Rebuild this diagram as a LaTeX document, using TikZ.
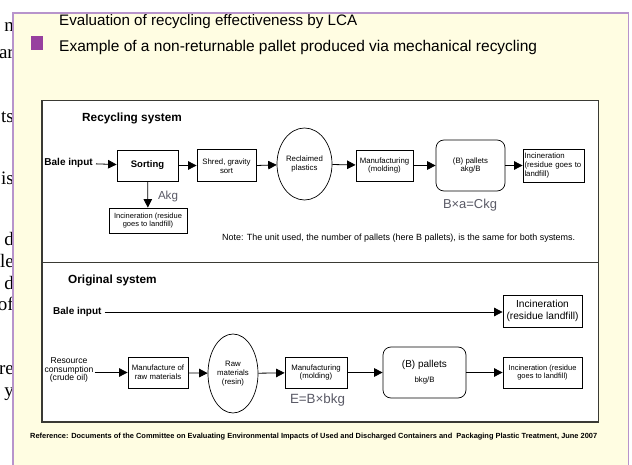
\documentclass[tikz,border=0pt]{standalone}
\usepackage{fontspec}
\setmainfont{Liberation Sans}
\newfontfamily\pageserif{Liberation Serif}
\usetikzlibrary{arrows.meta,shapes.geometric}
\definecolor{panelfill}{HTML}{FFFDE2}
\definecolor{panelrule}{HTML}{B894CC}
\definecolor{markpurple}{HTML}{97409F}
\definecolor{framerule}{HTML}{3A3A34}
\definecolor{qtygray}{HTML}{5A5A66}
\tikzset{
  fs/.style={font=\fontsize{#1}{#1}\selectfont},
  fsb/.style={font=\fontsize{#1}{#1}\selectfont\bfseries},
  boxfont/.style={font=\fontsize{7.8}{8.8}\selectfont},
  procbox/.style={draw=black, line width=0.8pt, fill=white, align=center,
    inner sep=1pt, boxfont},
  stockoval/.style={ellipse, draw=black, line width=0.7pt, fill=white, align=center,
    inner sep=0pt, boxfont},
  productbox/.style={draw=black, line width=0.7pt, rounded corners=8pt, fill=white,
    align=center, inner sep=1pt, boxfont},
  qty/.style={text=qtygray, inner sep=0pt},
  flow/.style={line width=0.8pt, -{Triangle[length=8.5pt,width=8.5pt]}},
  pagetext/.style={anchor=base east, inner sep=0pt, font=\pageserif\fontsize{19}{19}\selectfont}
}
\begin{document}
\begin{tikzpicture}[x=1pt,y=-1pt]
\useasboundingbox (0,0) rectangle (632,465);
\fill[white] (0,0) rectangle (632,465);

% text of the page running behind the panel
\foreach \t/\yy in {n/32, ar/59, ts/123, is/185, d/246, le/267, d/289, of/310, re/374, y/396}
  \node[pagetext] at (14,\yy) {\t};

% panel
\draw[fill=panelfill, draw=panelrule, line width=1.6pt] (13,13) rectangle (628.5,480);
\fill[markpurple] (31,36) rectangle (43,50);
\node[anchor=west, inner sep=0pt] (title) at (59,21.5)
  {\resizebox{298pt}{!}{\fontsize{15}{15}\selectfont Evaluation of recycling effectiveness by LCA}};
\node[anchor=west, inner sep=0pt] (subtitle) at (59,47.5)
  {\resizebox{478pt}{!}{\fontsize{15}{15}\selectfont Example of a non-returnable pallet produced via mechanical recycling}};

% diagram frame
\draw[fill=white, draw=framerule, line width=1.2pt] (42,100.5) rectangle (598.5,422);
\draw[draw=framerule, line width=1.2pt] (42,262.5) -- (598.5,262.5);

% ---------- recycling system ----------
\node[anchor=west, inner sep=0pt, fsb=11.8] (rechead) at (82,118) {Recycling system};
\node[anchor=east, inner sep=0pt, fsb=10] (bale1) at (93,163) {Bale input};
\node[procbox, minimum width=61pt, minimum height=31pt, fsb=9.5] (sort) at (147.5,165.5) {Sorting};
\node[procbox, minimum width=59pt, minimum height=32pt, anchor=north] (shred) at (226.5,149.5) {Shred, gravity\\sort};
\node[stockoval, minimum width=55pt, minimum height=72pt] (recl) at (304.5,164) {Reclaimed\\plastics};
\node[procbox, minimum width=57pt, minimum height=31pt] (mfg1) at (384.5,165.5) {Manufacturing\\(molding)};
\node[productbox, minimum width=69pt, minimum height=51pt] (pal1) at (470.5,165.5) {(B) pallets\\akg/B};
\node[procbox, minimum width=61pt, minimum height=33pt, align=left, text width=58pt] (inc1) at (553.5,165.5) {Incineration\\(residue goes to\\landfill)};
\node[procbox, minimum width=78pt, minimum height=25pt, font=\fontsize{7.5}{8.5}\selectfont] (inc0) at (148,220.5) {Incineration (residue\\goes to landfill)};
\node[qty] (akg) at (168,197) {\resizebox{20pt}{!}{\fontsize{11}{11}\selectfont Akg}};
\node[qty] (bac) at (470,205) {\resizebox{54pt}{!}{\fontsize{12}{12}\selectfont B\texttimes a=Ckg}};
\node[anchor=west, inner sep=0pt] (note) at (222,238)
  {\resizebox{353pt}{!}{\fontsize{8.5}{8.5}\selectfont Note: The unit used, the number of pallets (here B pallets), is the same for both systems.}};

\draw[flow, shorten <=3pt] (bale1) -- (sort);
\draw[flow] (sort) -- (shred.west |- sort);
\draw[flow] (shred.east |- sort) -- (recl);
\draw[flow] (recl) -- (mfg1);
\draw[flow] (mfg1) -- (pal1);
\draw[flow] (pal1) -- (inc1);
\draw[flow] (sort) -- (inc0);

% ---------- original system ----------
\node[anchor=west, inner sep=0pt, fsb=11.8] (orighead) at (68,280) {Original system};
\node[anchor=west, inner sep=0pt, fsb=10] (bale2) at (53,312) {Bale input};
\node[procbox, minimum width=79pt, minimum height=32pt, font=\fontsize{10.2}{11.5}\selectfont] (inc2) at (542.5,311) {Incineration\\(residue landfill)};
\node[align=center, inner sep=1pt, fs=8.6] (res) at (69,370) {Resource\\consumption\\(crude oil)};
\node[procbox, minimum width=60pt, minimum height=31pt] (mraw) at (158,372.5) {Manufacture of\\raw materials};
\node[stockoval, minimum width=50pt, minimum height=79pt] (raw) at (233,373.5) {Raw\\materials\\(resin)};
\node[procbox, minimum width=62pt, minimum height=31pt] (mfg2) at (316,372.5) {Manufacturing\\(molding)};
\node[productbox, minimum width=83pt, minimum height=51pt] (pal2) at (424.5,372.5)
  {{\fontsize{10}{12}\selectfont (B) pallets}\\[6pt]bkg/B};
\node[procbox, minimum width=79pt, minimum height=31pt, font=\fontsize{7.5}{8.5}\selectfont] (inc3) at (542.5,372.5) {Incineration (residue\\goes to landfill)};
\node[qty] (ebk) at (317.5,400) {\resizebox{55pt}{!}{\fontsize{12}{12}\selectfont E=B\texttimes bkg}};

\draw[flow, shorten <=3pt] (bale2) -- (inc2.west |- bale2);
\draw[flow] (res.east |- mraw) -- (mraw);
\draw[flow] (mraw) -- (raw);
\draw[flow] (raw) -- (mfg2);
\draw[flow] (mfg2) -- (pal2);
\draw[flow] (pal2) -- (inc3);

% source
\node[anchor=west, inner sep=0pt] (src) at (30,436.5)
  {\resizebox{567pt}{!}{\fontsize{7}{7}\selectfont\bfseries Reference: Documents of the Committee on Evaluating Environmental Impacts of Used and Discharged Containers and \ Packaging Plastic Treatment, June 2007}};
\end{tikzpicture}
\end{document}
